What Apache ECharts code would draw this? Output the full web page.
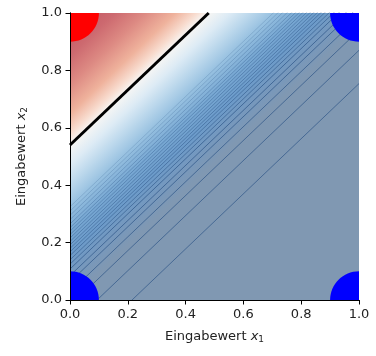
<!DOCTYPE html>
<html>
<head>
<meta charset="utf-8">
<script src="https://cdn.jsdelivr.net/npm/echarts@6/dist/echarts.min.js"></script>
<style>
  html, body { margin: 0; padding: 0; background: #fff; }
  #chart { width: 376px; height: 356px; }
</style>
</head>
<body>
<div id="chart"></div>
<script>
// data
const axisTicks = [0, 0.2, 0.4, 0.6, 0.8, 1.0];
const pointX = [0, 0, 1, 1];
const pointY = [0, 1, 0, 1];
const pointClass = [0, 1, 0, 0];
const boundaryLine = [[0, 0.54], [0.48, 1.0]];
const lineSlope = 0.96;
const contourLevels = [-0.206, -0.09, -0.02, 0.028, 0.063, 0.085, 0.108, 0.125, 0.14, 0.155,
  0.168, 0.18, 0.192, 0.204, 0.216, 0.228, 0.24, 0.252, 0.265, 0.28, 0.295, 0.31, 0.325];
// colour ramp along x2 - 0.96*x1
const shadeLevels = [1.0, 0.85, 0.75, 0.65, 0.58, 0.54, 0.47, 0.40, 0.32, 0.24, 0.16, 0.08, 0.0, -1.0];
const shadeColors = ['#c0505e', '#cd6a70', '#dd8a83', '#efb29c', '#f8dccf', '#f7f6f4', '#ddebf5',
  '#bcd8ec', '#96c0e0', '#78a8d3', '#6c9bca', '#7698bd', '#8098b2', '#8098b2'];

const font = 'DejaVu Sans';
const chart = echarts.init(document.getElementById('chart'));

const cMax = shadeLevels[0], cMin = shadeLevels[shadeLevels.length - 1];

function renderShade(params, api) {
  const a = api.coord([0, cMax]);
  const p = api.coord([0, cMin]);
  const q = api.coord([1, lineSlope + cMin]);
  let ux = q[0] - p[0], uy = q[1] - p[1];
  const len = Math.hypot(ux, uy);
  ux /= len; uy /= len;
  const t = (a[0] - p[0]) * ux + (a[1] - p[1]) * uy;
  const b = [p[0] + t * ux, p[1] + t * uy];
  const stops = shadeLevels.map((c, i) => ({
    offset: (cMax - c) / (cMax - cMin),
    color: shadeColors[i]
  }));
  const tl = api.coord([0, 1]), br = api.coord([1, 0]);
  return {
    type: 'rect',
    shape: { x: tl[0], y: tl[1], width: br[0] - tl[0], height: br[1] - tl[1] },
    style: { fill: new echarts.graphic.LinearGradient(a[0], a[1], b[0], b[1], stops, true) }
  };
}

function renderPoint(params, api) {
  const c = api.coord([api.value(0), api.value(1)]);
  const r = api.size([0.1, 0.1]);
  return {
    type: 'ellipse',
    shape: { cx: c[0], cy: c[1], rx: r[0], ry: r[1] },
    style: { fill: api.value(2) === 1 ? '#ff0000' : '#0000ff' }
  };
}

const nameRich = {
  it: { fontFamily: font, fontSize: 13, fontStyle: 'italic', color: '#222' },
  sub: { fontFamily: font, fontSize: 9, color: '#222', verticalAlign: 'bottom', padding: [6, 0, 0, 0] }
};

const baseAxis = {
  type: 'value', min: 0, max: 1, interval: 0.2, z: 10,
  axisLine: { show: true, onZero: false, lineStyle: { color: '#000', width: 1 } },
  axisTick: { show: true, length: 4.5, lineStyle: { color: '#000' } },
  axisLabel: { fontFamily: font, fontSize: 13, color: '#222', margin: 8,
    formatter: v => axisTicks.includes(Math.round(v * 10) / 10) ? v.toFixed(1) : '' },
  splitLine: { show: false }
};

const series = [
  { type: 'custom', renderItem: renderShade, data: [[0]], clip: true, silent: true, z: 1 },
  ...contourLevels.map(c => ({
    type: 'line', data: [[0, c], [1, lineSlope + c]], symbol: 'none', silent: true, z: 2,
    lineStyle: { color: c < 0.12 ? 'rgba(45,85,135,0.7)' : 'rgba(45,85,135,' + Math.max(0.2, 0.6 - (c - 0.12) * 2).toFixed(2) + ')', width: 1 }
  })),
  { type: 'line', data: boundaryLine, symbol: 'none', silent: true, z: 3,
    lineStyle: { color: '#000', width: 3 } },
  { type: 'custom', renderItem: renderPoint, clip: true, silent: true, z: 4,
    data: pointX.map((x, i) => [x, pointY[i], pointClass[i]]) }
];

chart.setOption({
  animation: false,
  backgroundColor: '#fff',
  grid: { left: 70, top: 13, width: 289, height: 287 },
  xAxis: [
    { ...baseAxis, position: 'bottom',
      name: 'Eingabewert {it|x}{sub|1}', nameLocation: 'middle', nameGap: 29,
      nameTextStyle: { fontFamily: font, fontSize: 13, color: '#222', rich: nameRich } },
    { type: 'value', min: 0, max: 1, position: 'top', z: 10,
      axisLine: { show: true, lineStyle: { color: '#000', width: 1 } },
      axisTick: { show: false }, axisLabel: { show: false }, splitLine: { show: false } }
  ],
  yAxis: [
    { ...baseAxis, position: 'left',
      name: 'Eingabewert {it|x}{sub|2}', nameLocation: 'middle', nameGap: 41, nameRotate: 90,
      nameTextStyle: { fontFamily: font, fontSize: 13, color: '#222', rich: nameRich } },
    { type: 'value', min: 0, max: 1, position: 'right', z: 10,
      axisLine: { show: true, lineStyle: { color: '#000', width: 1 } },
      axisTick: { show: false }, axisLabel: { show: false }, splitLine: { show: false } }
  ],
  series: series
});
</script>
</body>
</html>
